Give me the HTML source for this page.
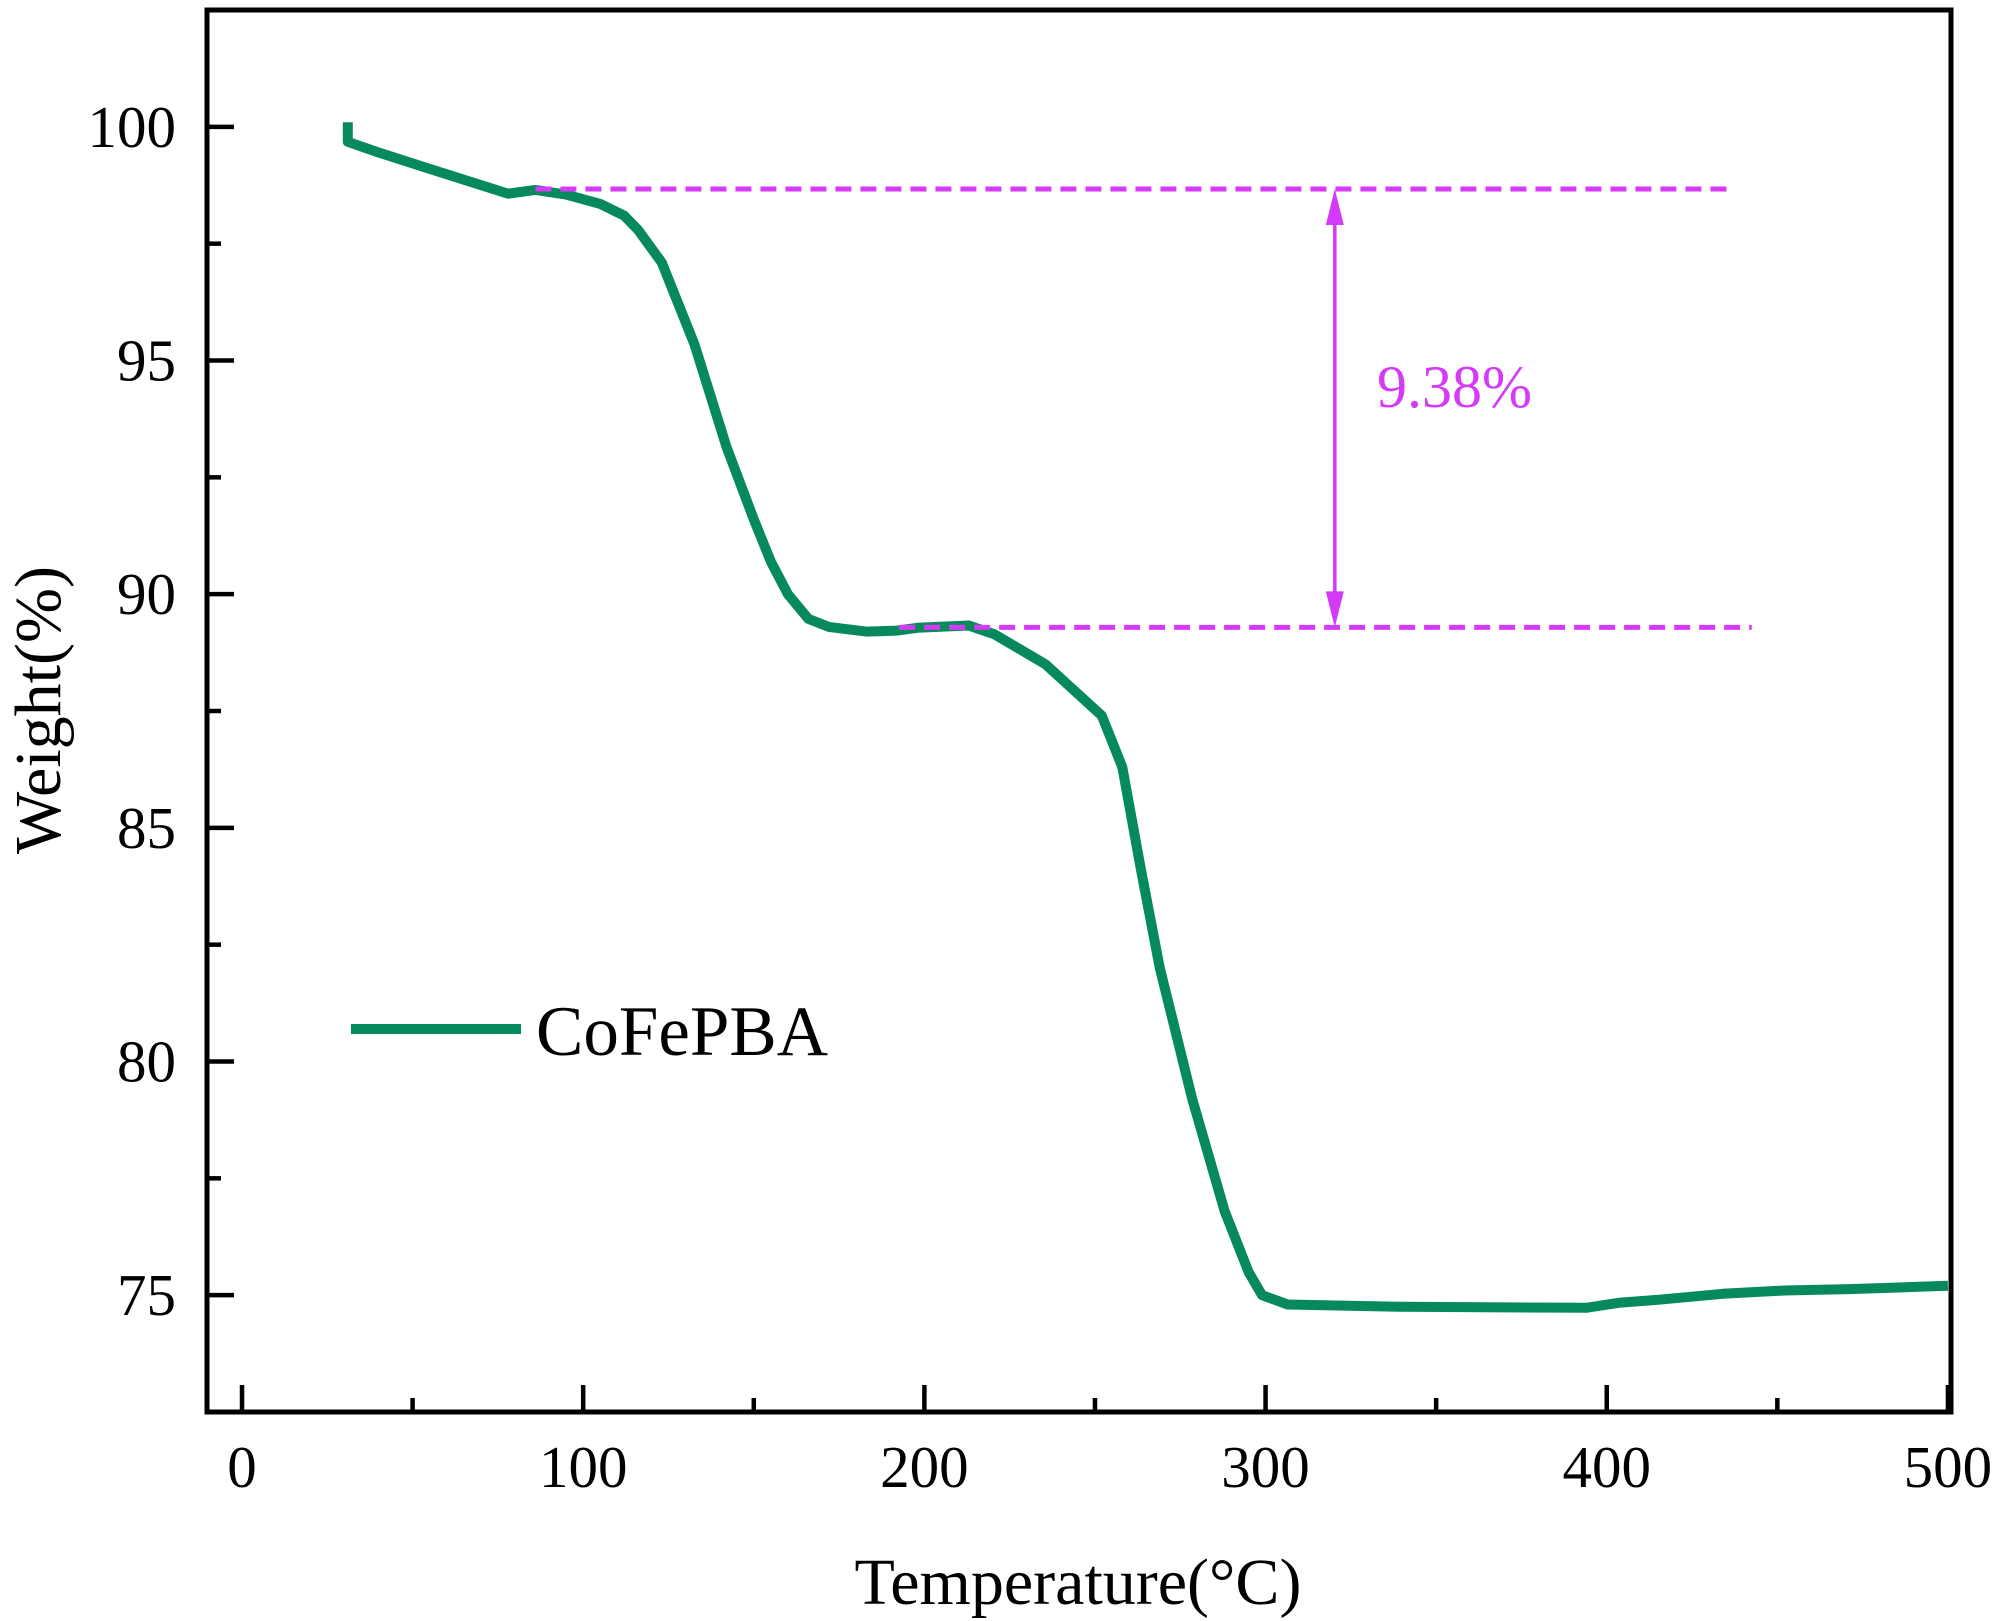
<!DOCTYPE html>
<html><head><meta charset="utf-8"><style>
html,body{margin:0;padding:0;background:#fff;}
svg{display:block;font-family:"Liberation Serif",serif;}
</style></head><body>
<svg id="chart" width="2000" height="1621" viewBox="0 0 2000 1621"></svg>
<script>
const temps   = [31,31,40,55,78,86,95,105,112,116,123,132.6,142,150,155,160,166,172,183,192,198,213,220.6,235.5,252,258,263.5,269,278.5,288,295,299,306.5,340,394,404,415,434,452,471,500];
const weights = [100.1,99.68,99.45,99.1,98.57,98.65,98.55,98.35,98.1,97.8,97.1,95.35,93.15,91.6,90.7,90.0,89.47,89.3,89.2,89.22,89.28,89.33,89.14,88.5,87.4,86.3,84.1,82.0,79.2,76.8,75.5,75.0,74.8,74.75,74.73,74.84,74.9,75.03,75.1,75.13,75.2];
const xTicks = [0,100,200,300,400,500];
const xMinor = [50,150,250,350,450];
const yTicks = [75,80,85,90,95,100];
const yMinor = [77.5,82.5,87.5,92.5,97.5];
const upperLevel = 98.67, lowerLevel = 89.29;
const upperRange = [86,437], lowerRange = [192.6,442.5];
const arrowT = 320.3;
const lossLabel = "9.38%";

const NS="http://www.w3.org/2000/svg";
const svg=document.getElementById('chart');
const L=207,R=1951,T=10,B=1412;
const xMin=-10.26,xMax=500.9,yMin=72.5,yMax=102.5;
const sx=v=>L+(v-xMin)/(xMax-xMin)*(R-L);
const sy=v=>B-(v-yMin)/(yMax-yMin)*(B-T);
function el(tag,attrs,parent){const e=document.createElementNS(NS,tag);for(const k in attrs)e.setAttribute(k,attrs[k]);(parent||svg).appendChild(e);return e;}
const mag="#d63af9";

let d=temps.map((t,i)=>(i?'L':'M')+sx(t).toFixed(1)+','+sy(weights[i]).toFixed(1)).join(' ');
const line=el('path',{d:d,fill:'none',stroke:'#078a5b','stroke-width':10,'stroke-linejoin':'round'});



const dl1=el('line',{x1:sx(upperRange[0]),x2:sx(upperRange[1]),y1:sy(upperLevel),y2:sy(upperLevel),stroke:mag,'stroke-width':5,'stroke-dasharray':'16 9'});


const dl2=el('line',{x1:sx(lowerRange[0]),x2:sx(lowerRange[1]),y1:sy(lowerLevel),y2:sy(lowerLevel),stroke:mag,'stroke-width':5,'stroke-dasharray':'16 9'});


const ax=sx(arrowT),ay1=sy(upperLevel),ay2=sy(lowerLevel);
const arr=el('g',{});


el('line',{x1:ax,x2:ax,y1:ay1+30,y2:ay2-30,stroke:mag,'stroke-width':3.5},arr);
el('polygon',{points:`${ax},${ay1} ${ax-9},${ay1+36} ${ax+9},${ay1+36}`,fill:mag},arr);
el('polygon',{points:`${ax},${ay2} ${ax-9},${ay2-36} ${ax+9},${ay2-36}`,fill:mag},arr);
const lt=el('text',{x:1377,y:407,'font-size':60,fill:mag});
lt.textContent=lossLabel;



const fr=el('path',{d:`M${L},${T} H${R} V${B} H${L} Z`,fill:'none',stroke:'#000','stroke-width':5});


xTicks.forEach(v=>{const x=sx(v);
 el('line',{x1:x,x2:x,y1:B,y2:B-27,stroke:'#000','stroke-width':4.5});
 const t=el('text',{x:x,y:1487,'font-size':59,'text-anchor':'middle'});t.textContent=v;
 
 });
xMinor.forEach(v=>{const x=sx(v);el('line',{x1:x,x2:x,y1:B,y2:B-14,stroke:'#000','stroke-width':4.5});});
yTicks.forEach(v=>{const y=sy(v);
 el('line',{x1:L,x2:L+27,y1:y,y2:y,stroke:'#000','stroke-width':4.5});
 const t=el('text',{x:176,y:y+20,'font-size':59,'text-anchor':'end'});t.textContent=v;
 
 });
yMinor.forEach(v=>{const y=sy(v);el('line',{x1:L,x2:L+14,y1:y,y2:y,stroke:'#000','stroke-width':4.5});});

const xt=el('text',{x:1078,y:1604,'font-size':66,'text-anchor':'middle'});
xt.textContent='Temperature(°C)';


const yt=el('text',{x:0,y:0,'font-size':66,'text-anchor':'middle',transform:'translate(60,710) rotate(-90)'});
yt.textContent='Weight(%)';



const lg=el('g',{});


el('line',{x1:351,x2:521,y1:1029,y2:1029,stroke:'#078a5b','stroke-width':10},lg);
const ltx=el('text',{x:536,y:1055,'font-size':71},lg);ltx.textContent='CoFePBA';
</script>
</body></html>
